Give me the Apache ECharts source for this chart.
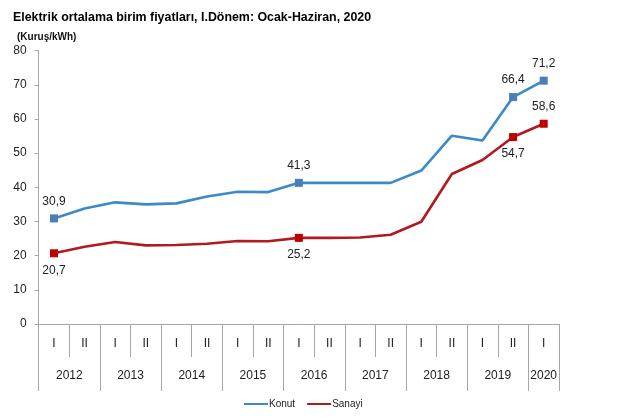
<!DOCTYPE html>
<html>
<head>
<meta charset="utf-8">
<script src="https://cdn.jsdelivr.net/npm/echarts@6/dist/echarts.min.js"></script>
<style>html,body{margin:0;padding:0;background:#fff}#c{width:640px;height:419px}</style>
</head>
<body>
<div id="c"></div>
<script>
// ---- data ----
var periods = ['I','II','I','II','I','II','I','II','I','II','I','II','I','II','I','II','I'];
var years = ['2012','2013','2014','2015','2016','2017','2018','2019','2020'];
var yearCounts = [2,2,2,2,2,2,2,2,1];
var konut  = [30.9, 33.8, 35.6, 35.0, 35.3, 37.3, 38.7, 38.6, 41.3, 41.3, 41.3, 41.3, 44.9, 55.1, 53.7, 66.4, 71.2];
var sanayi = [20.7, 22.6, 24.0, 23.0, 23.1, 23.5, 24.3, 24.2, 25.2, 25.2, 25.3, 26.1, 29.9, 43.9, 48.0, 54.7, 58.6];
var markedIdx = [0, 8, 15, 16];
var konutLabelPos  = {0:'top', 8:'top', 15:'top', 16:'top'};
var sanayiLabelPos = {0:'bottom', 8:'bottom', 15:'bottom', 16:'top'};
var yTicks = [0,10,20,30,40,50,60,70,80];

// ---- derived ----
var yearBounds = [0];
yearCounts.forEach(function(c){ yearBounds.push(yearBounds[yearBounds.length-1] + c); });
var yearCenters = yearCounts.map(function(c,i){ return yearBounds[i] + c/2; });
function yearFor(v){ for (var i=0;i<yearCenters.length;i++){ if (Math.abs(yearCenters[i]-v)<1e-6) return years[i]; } return ''; }

var FONT = '"Liberation Sans", Arial, sans-serif';
var cK = '#3b8ac8', cKm = '#4a7ebb', cS = '#b01a20', cSm = '#c00000';

function build(vals, posMap, mColor){
  return vals.map(function(v,i){
    if (markedIdx.indexOf(i) >= 0) {
      return { value: v, symbol: 'rect', symbolSize: 8,
        itemStyle: { color: mColor },
        label: { show: true, position: posMap[i], distance: 7,
          formatter: function(p){ return String(p.value.toFixed(1)).replace('.', ','); } } };
    }
    return { value: v, symbol: 'none' };
  });
}

var grid = { left: 38.7, right: 81, top: 50.6, bottom: 95 };
var chart = echarts.init(document.getElementById('c'), null, { renderer: 'canvas' });
chart.setOption({
  animation: false,
  textStyle: { fontFamily: FONT },
  title: [
    { text: 'Elektrik ortalama birim fiyatları, I.Dönem: Ocak-Haziran, 2020', left: 8, top: 7,
      textStyle: { fontFamily: FONT, fontSize: 12.4, fontWeight: 'bold', color: '#000' } },
    { text: '(Kuruş/kWh)', left: 12, top: 27,
      textStyle: { fontFamily: FONT, fontSize: 10, fontWeight: 'bold', color: '#111' } }
  ],
  legend: {
    bottom: 5, left: 239, itemWidth: 24, itemHeight: 2, itemGap: 12, icon: 'rect',
    textStyle: { fontFamily: FONT, fontSize: 10, color: '#222', padding: [0,0,0,-4] },
    data: [ { name: 'Konut', itemStyle: { color: cK } }, { name: 'Sanayi', itemStyle: { color: cS } } ]
  },
  grid: [ grid, { left: grid.left, right: grid.right, top: grid.top, bottom: grid.bottom } ],
  xAxis: [
    { type: 'category', gridIndex: 0, data: periods, boundaryGap: true,
      axisLine: { show: true, lineStyle: { color: '#a6a6a6', width: 1 } },
      axisTick: { show: true, interval: 0, length: 33, lineStyle: { color: '#a6a6a6' } },
      axisLabel: { interval: 0, margin: 14, fontSize: 12, color: '#222', fontFamily: FONT },
      splitLine: { show: false } },
    { type: 'value', gridIndex: 1, min: 0, max: yearBounds[yearBounds.length-1], position: 'bottom',
      axisLine: { show: false },
      axisTick: { show: true, customValues: yearBounds, length: 67, lineStyle: { color: '#a6a6a6' } },
      axisLabel: { show: true, customValues: yearCenters, margin: 46, fontSize: 12, color: '#222', fontFamily: FONT,
        formatter: function(v){ return yearFor(v); } },
      splitLine: { show: false } }
  ],
  yAxis: [
    { type: 'value', gridIndex: 0, min: 0, max: 80, interval: 10,
      axisLine: { show: true, lineStyle: { color: '#a6a6a6' } },
      axisTick: { show: true, length: 4, lineStyle: { color: '#a6a6a6' } },
      axisLabel: { margin: 12, fontSize: 12, color: '#222', fontFamily: FONT,
        customValues: yTicks },
      splitLine: { show: false } },
    { type: 'value', gridIndex: 1, min: 0, max: 80, show: false }
  ],
  series: [
    { name: 'Konut', type: 'line', xAxisIndex: 0, yAxisIndex: 0, data: build(konut, konutLabelPos, cKm),
      symbol: 'rect', symbolSize: 8, showSymbol: true, smooth: false,
      lineStyle: { color: cK, width: 2.6 }, itemStyle: { color: cK },
      label: { fontSize: 12, color: '#222', fontFamily: FONT },
      emphasis: { disabled: true } },
    { name: 'Sanayi', type: 'line', xAxisIndex: 0, yAxisIndex: 0, data: build(sanayi, sanayiLabelPos, cSm),
      symbol: 'rect', symbolSize: 8, showSymbol: true, smooth: false,
      lineStyle: { color: cS, width: 2.6 }, itemStyle: { color: cS },
      label: { fontSize: 12, color: '#222', fontFamily: FONT },
      emphasis: { disabled: true } }
  ]
});
</script>
</body>
</html>
